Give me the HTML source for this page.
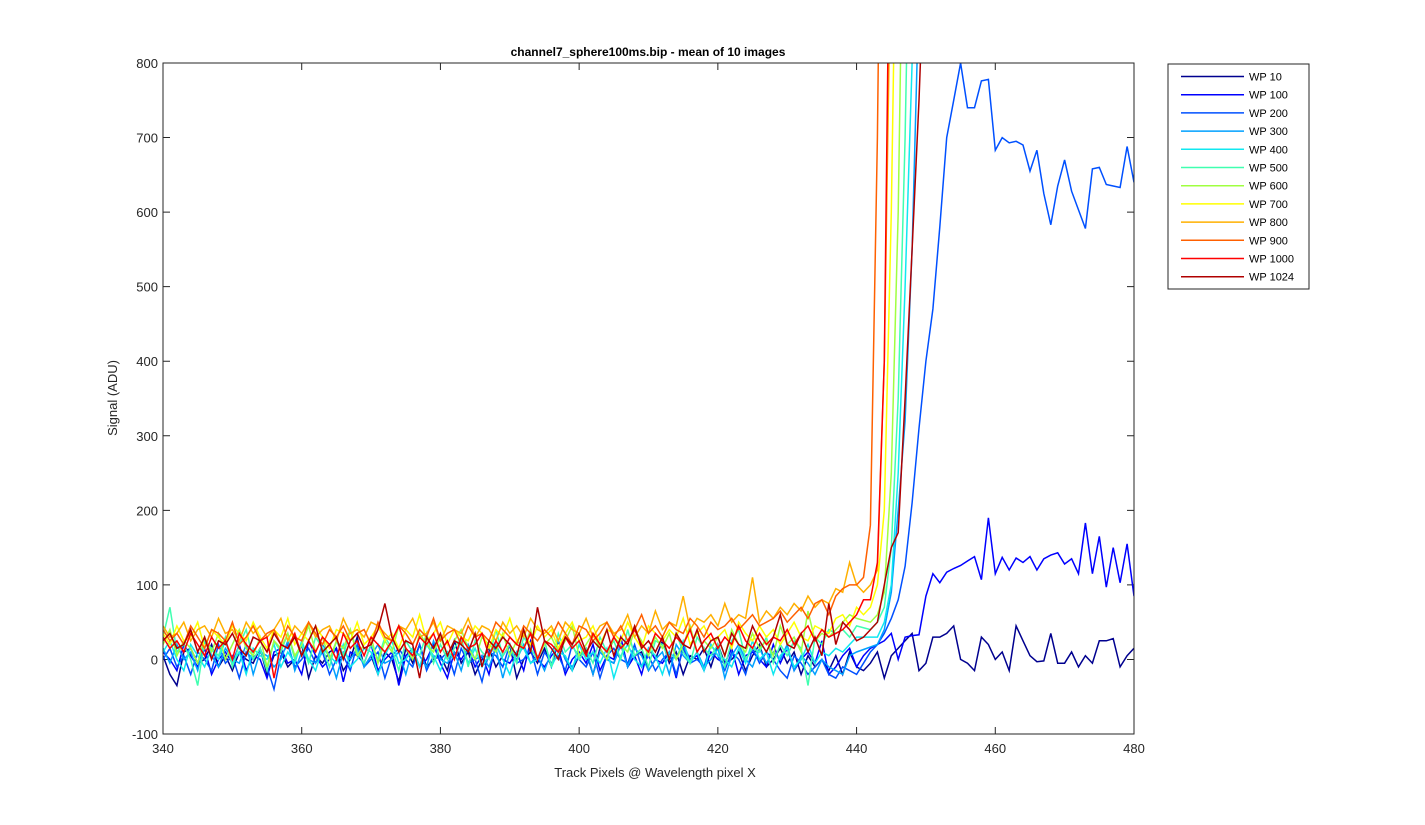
<!DOCTYPE html>
<html><head><meta charset="utf-8"><style>
body{margin:0;background:#fff;}
svg{display:block;font-family:"Liberation Sans",Arial,sans-serif;}
</style></head><body>
<svg id="chart" width="1425" height="825">
<rect x="0" y="0" width="1425" height="825" fill="#fff"/>
<defs><clipPath id="clip"><rect x="163" y="63" width="971" height="671"/></clipPath></defs>
<text x="648" y="56" text-anchor="middle" font-size="12" font-weight="bold" fill="#000">channel7_sphere100ms.bip - mean of 10 images</text>
<g id="axes"></g>
<g id="lines" clip-path="url(#clip)"></g>
<rect x="163" y="63" width="971" height="671" fill="none" stroke="#262626" stroke-width="1"/>
<text x="655" y="777" text-anchor="middle" font-size="13" fill="#262626">Track Pixels @ Wavelength pixel X</text>
<text transform="translate(117,398) rotate(-90)" text-anchor="middle" font-size="13" fill="#262626">Signal (ADU)</text>
<g id="legend"></g>
</svg>
<script>
const xTicks=[340,360,380,400,420,440,460,480];
const yTicks=[-100,0,100,200,300,400,500,600,700,800];
const seriesNames=["WP 10","WP 100","WP 200","WP 300","WP 400","WP 500","WP 600","WP 700","WP 800","WP 900","WP 1000","WP 1024"];
const seriesColors=["#00008f","#0000ff","#0050ff","#00a0ff","#10e8f0","#40ffb0","#a0ff40","#ffff00","#ffb000","#ff6000","#ff0000","#b00000"];
const noise0=[5,-20,-35,10,15,-5,0,20,-10,5,-15,10,0,-5,15,-20,5,10,-10,0,20,-25,5,-5,10,15,-15,0,30,-10,5,-20,10,0,-30,15,-5,20,-10,0,5,-15,25,-5,10,-20,0,15,-10,5,20,-25,0,10,-5,15,-10,25,0,-15,5,10,-20,15,0,-5,20,-10,5,10,-15,0,25,-5,10,-20,5,0,15,-10,20,-5,0,10,-15,5,20,-10,0,15,-5,10,-20,5,-10,0,-15,5,-20,10,-10,5];
const noise1=[10,0,-15,20,5,-10,15,-20,0,10,-5,20,-15,5,0,-25,10,15,-5,0,-20,25,5,-10,0,15,-30,10,5,-5,20,-15,0,10,-35,5,15,-10,0,20,-5,-25,10,0,15,-10,5,-20,20,0,-5,10,-15,25,0,-10,5,15,-20,0,10,-5,20,-15,5,0,30,-10,5,-20,15,0,-5,10,-25,20,0,5,-15,10,0,-5,15,-20,5,10,0,-10,20,-5,15,-15,0,10,-5,25,-20,-10,5,15];
const noise2=[0,15,-10,5,-20,10,0,-15,20,-5,5,-25,10,0,15,-10,-40,5,20,-10,0,15,-5,10,-20,0,5,-15,20,-10,0,10,-25,5,15,0,-10,20,-15,5,0,10,-20,15,-5,0,-30,10,5,-10,20,-5,0,15,-20,10,-5,5,-15,20,0,-10,10,-25,5,15,0,-5,20,-10,5,-15,0,10,-20,15,-5,0,-10,20,5,-15,10,0,-20,15,-5,10,0,-15,-25,5,-5,-20,-10,0,-20,-25,-10];
const noise3=[15,-5,20,0,10,-15,25,5,-10,15,0,-5,20,-20,10,5,-10,0,25,-15,10,0,-5,20,5,-25,10,0,15,-10,5,20,-5,0,10,-20,15,5,-10,25,0,-5,10,-15,20,0,5,-10,15,-25,10,0,20,-5,5,-15,10,25,0,-10,5,15,-20,10,0,-5,20,-10,15,5,-15,0,10,-20,20,5,-5,10,-10,0,15,-25,5,20,0,-10,15,-5,10,0,20,-15,5,-5,-20,0,-10,-15,-20,5,10];
const noise4=[10,25,0,-15,20,5,-10,15,0,25,-5,10,-20,15,5,0,20,-10,10,-5,25,0,-15,15,5,-5,20,-10,0,15,10,-20,5,25,-5,0,15,-10,20,5,-15,10,0,25,-5,15,-10,5,20,0,-20,10,15,-5,0,25,-10,10,5,-15,20,0,10,-5,15,-25,5,20,0,-10,15,5,-20,10,0,25,-5,10,-15,20,5,0,-10,15,-5,25,0,10,-20,5,15,-10,0,20,-5,10,5,15,10,20,30];
const noise5=[30,70,10,20,0,-35,25,15,5,30,-10,20,40,0,15,-15,25,10,35,0,20,-5,30,15,-10,25,5,40,10,-5,20,0,30,15,-15,25,10,5,35,-5,20,0,15,30,-10,25,10,0,40,5,20,-5,30,15,0,25,-10,35,10,20,0,15,-5,30,10,25,0,40,5,15,-10,25,20,0,35,10,-5,30,15,5,20,-10,25,40,0,15,10,30,-5,20,5,25,15,-35,30,20,40,35,40,30,45];
const noise6=[20,40,5,25,15,-5,30,10,35,0,20,40,15,5,30,-10,25,15,35,5,20,45,10,30,0,25,15,40,5,20,30,-5,25,10,45,15,0,35,20,10,30,5,25,40,15,0,30,20,10,35,5,25,15,40,0,20,30,10,25,45,5,20,35,15,0,30,20,10,40,25,5,30,15,35,0,20,45,10,25,15,30,5,40,20,10,35,15,25,5,45,20,30,10,65,25,35,30,40,50,60,55];
const noise7=[35,20,45,25,30,50,15,40,30,20,45,35,25,50,30,15,40,30,55,20,35,25,45,30,15,40,35,25,50,20,30,45,25,35,15,40,30,60,25,35,50,20,40,30,25,45,35,15,40,30,55,25,35,20,45,30,40,15,35,50,25,30,45,20,40,35,25,50,30,15,45,35,25,40,30,55,20,35,45,25,30,40,15,50,35,25,45,30,40,20,35,50,30,25,45,40,35,55,60,45,70,75];
const noise8=[45,30,35,50,25,40,45,30,55,35,40,25,50,35,45,30,40,55,25,45,35,50,30,40,45,25,55,35,40,30,50,45,35,25,45,40,55,30,35,50,25,45,40,35,55,30,45,40,25,50,35,45,30,55,40,35,45,25,50,40,35,55,30,45,50,35,40,60,30,45,35,65,40,50,45,85,40,55,50,60,45,75,50,60,55,110,50,65,55,70,60,75,65,85,70,80,75,95,90,130,100,110,95];
const noise9=[40,25,35,20,45,30,15,40,35,25,50,20,30,45,25,35,40,20,45,30,25,50,35,20,40,30,45,25,35,40,20,50,30,25,45,35,20,40,30,55,25,35,40,20,45,30,35,25,50,40,30,20,45,35,25,40,30,50,35,20,45,40,25,35,50,30,45,25,40,60,35,45,30,50,40,35,55,45,30,50,40,45,55,40,50,60,45,50,55,65,50,60,70,55,75,80,60,85,95,100,110,105,115];
const noise10=[30,15,25,10,35,20,5,30,15,25,0,35,20,10,25,30,-25,20,15,35,5,25,10,30,20,0,35,15,25,5,30,20,10,25,45,15,5,30,20,35,10,25,0,30,15,20,35,5,25,10,30,20,15,35,0,25,20,10,30,15,25,5,35,20,10,30,15,25,40,20,10,35,25,15,30,20,40,10,25,35,15,30,20,45,25,15,35,20,30,25,40,20,35,45,25,40,30,35,40,50,60,55,70];
const noise11=[25,35,15,20,40,10,30,0,25,20,35,15,5,30,25,10,35,20,15,30,5,25,45,10,20,30,0,25,35,15,20,40,75,30,10,25,20,-25,30,15,35,5,25,20,10,35,-10,25,15,30,20,5,40,10,70,25,15,0,30,20,35,10,25,15,40,5,30,20,45,15,25,10,30,0,35,20,15,40,10,25,30,5,35,20,15,45,25,10,30,60,20,15,35,10,30,5,75,20,50,40,25,30];
const tailStart=[441,440,440,443,443,442,442,441,441,440,441,443];
const tail0=[-15,-5,10,-25,5,15,25,35,-15,-5,30,30,35,45,0,-5,-15,30,20,0,10,-15,45,25,5,-3,-2,35,-5,-5,10,-10,5,-5,25,25,28,-10,5,15];
const tail1=[-10,5,15,20,25,35,0,30,32,33,85,115,103,117,122,126,132,138,107,190,115,137,120,136,130,138,120,135,140,143,128,135,115,183,115,165,97,150,103,155,85];
const tail2=[-20,-5,10,20,35,55,80,125,210,310,400,470,580,700,750,800,740,740,776,778,683,700,693,695,690,655,683,625,583,635,670,628,603,578,658,660,637,635,633,688,640];
const tail3=[20,40,90,200,320,550,900,2000];
const tail4=[30,50,100,250,500,800,1500];
const tail5=[40,50,70,150,350,700,1200];
const tail6=[50,60,90,250,600,1200];
const tail7=[60,70,100,200,600,1200];
const tail8=[90,100,120,400,1000,2000];
const tail9=[100,110,180,700,1500,2000];
const tail10=[80,80,130,400,1200,2000];
const tail11=[50,100,150,170,350,550,750,1000,2000];
const noises=[noise0,noise1,noise2,noise3,noise4,noise5,noise6,noise7,noise8,noise9,noise10,noise11];
const tails=[tail0,tail1,tail2,tail3,tail4,tail5,tail6,tail7,tail8,tail9,tail10,tail11];

const X0=163,X1=1134,Y0=734,Y1=63;
const xs=v=>X0+(v-340)/(480-340)*(X1-X0);
const ys=v=>Y0-(v+100)/(900)*(Y0-Y1);
const NS="http://www.w3.org/2000/svg";
const axes=document.getElementById('axes');
xTicks.forEach(t=>{
  const x=xs(t);
  const l=document.createElementNS(NS,'path');
  l.setAttribute('d',`M${x},${Y0}V${Y0-7}M${x},${Y1}V${Y1+7}`);
  l.setAttribute('stroke','#262626');
  
  
  axes.appendChild(l);
  const tx=document.createElementNS(NS,'text');
  tx.setAttribute('x',x);tx.setAttribute('y',Y0+19);tx.setAttribute('text-anchor','middle');
  tx.setAttribute('font-size','13');tx.setAttribute('fill','#262626');
  tx.textContent=t;
  
  
  axes.appendChild(tx);
});
yTicks.forEach(t=>{
  const y=ys(t);
  const l=document.createElementNS(NS,'path');
  l.setAttribute('d',`M${X0},${y}H${X0+7}M${X1},${y}H${X1-7}`);
  l.setAttribute('stroke','#262626');
  
  
  axes.appendChild(l);
  const tx=document.createElementNS(NS,'text');
  tx.setAttribute('x',X0-5);tx.setAttribute('y',y+5);tx.setAttribute('text-anchor','end');
  tx.setAttribute('font-size','13');tx.setAttribute('fill','#262626');
  tx.textContent=t;
  
  
  axes.appendChild(tx);
});
const lines=document.getElementById('lines');
seriesNames.forEach((name,s)=>{
  const pts=[];
  const n=noises[s],st=tailStart[s];
  for(let i=0;i<n.length&&340+i<st;i++) pts.push([xs(340+i),ys(n[i])]);
  tails[s].forEach((v,i)=>pts.push([xs(st+i),ys(v)]));
  const p=document.createElementNS(NS,'polyline');
  p.setAttribute('points',pts.map(q=>q[0].toFixed(1)+','+q[1].toFixed(1)).join(' '));
  p.setAttribute('fill','none');p.setAttribute('stroke',seriesColors[s]);p.setAttribute('stroke-width','1.5');
  
  
  lines.appendChild(p);
});
const leg=document.getElementById('legend');
const box=document.createElementNS(NS,'rect');
box.setAttribute('x',1168);box.setAttribute('y',64);box.setAttribute('width',141);box.setAttribute('height',225);
box.setAttribute('fill','#fff');box.setAttribute('stroke','#262626');


leg.appendChild(box);
seriesNames.forEach((name,s)=>{
  const y=76.5+s*18.2;
  const l=document.createElementNS(NS,'line');
  l.setAttribute('x1',1181);l.setAttribute('x2',1244);l.setAttribute('y1',y);l.setAttribute('y2',y);
  l.setAttribute('stroke',seriesColors[s]);l.setAttribute('stroke-width','1.5');
  
  
  leg.appendChild(l);
  const t=document.createElementNS(NS,'text');
  t.setAttribute('x',1249);t.setAttribute('y',y+4);t.setAttribute('font-size','11');t.setAttribute('fill','#000');
  t.textContent=name;
  
  
  leg.appendChild(t);
});
</script>
</body></html>
